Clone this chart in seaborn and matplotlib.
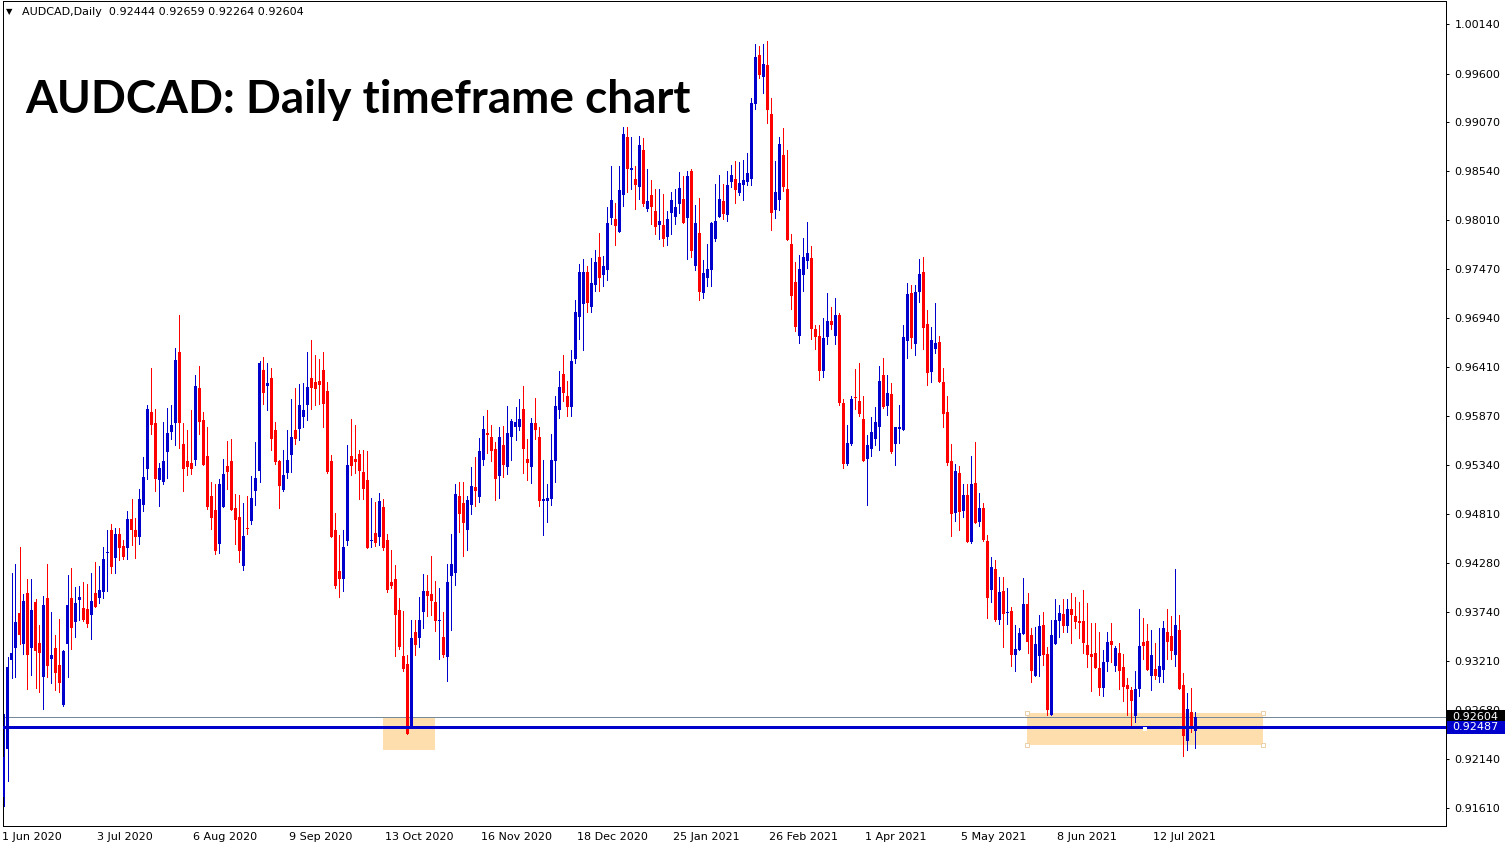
import numpy as np
import pandas as pd
import matplotlib
matplotlib.use("Agg")
import matplotlib.pyplot as plt
import matplotlib.transforms as mtransforms
from matplotlib.patches import Rectangle
import seaborn as sns

sns.set_style("white")
plt.rcParams['font.family'] = ['DejaVu Sans']

# ---------------- data (AUDCAD daily) ----------------
opens = [0.9173, 0.9225, 0.9322, 0.9335, 0.9373, 0.9339, 0.9395, 0.9335, 0.9385, 0.9340,
         0.9304, 0.9390, 0.9323, 0.9335, 0.9317, 0.9273, 0.9339, 0.9389, 0.9363, 0.9387,
         0.9379, 0.9378, 0.9371, 0.9395, 0.9389, 0.9396, 0.9438, 0.9464, 0.9433, 0.9459,
         0.9446, 0.9444, 0.9475, 0.9464, 0.9456, 0.9491, 0.9530, 0.9592, 0.9580, 0.9518,
         0.9516, 0.9548, 0.9570, 0.9580, 0.9657, 0.9557, 0.9539, 0.9536, 0.9540, 0.9618,
         0.9583, 0.9544, 0.9500, 0.9485, 0.9448, 0.9488, 0.9533, 0.9538, 0.9487, 0.9478,
         0.9424, 0.9466, 0.9473, 0.9506, 0.9528, 0.9638, 0.9620, 0.9629, 0.9572, 0.9539,
         0.9507, 0.9526, 0.9545, 0.9572, 0.9573, 0.9586, 0.9600, 0.9629, 0.9625, 0.9626,
         0.9638, 0.9615, 0.9538, 0.9464, 0.9419, 0.9410, 0.9451, 0.9544, 0.9541, 0.9546,
         0.9527, 0.9518, 0.9451, 0.9460, 0.9456, 0.9488, 0.9453, 0.9407, 0.9410, 0.9376,
         0.9326, 0.9318, 0.9249, 0.9353, 0.9346, 0.9374, 0.9397, 0.9394, 0.9385, 0.9364,
         0.9347, 0.9325, 0.9413, 0.9417, 0.9500, 0.9493, 0.9464, 0.9491, 0.9510, 0.9499,
         0.9540, 0.9569, 0.9565, 0.9552, 0.9522, 0.9556, 0.9532, 0.9565, 0.9576, 0.9575,
         0.9595, 0.9541, 0.9532, 0.9580, 0.9565, 0.9495, 0.9495, 0.9497, 0.9539, 0.9594,
         0.9633, 0.9609, 0.9597, 0.9649, 0.9695, 0.9709, 0.9744, 0.9706, 0.9730, 0.9761,
         0.9741, 0.9746, 0.9803, 0.9802, 0.9788, 0.9828, 0.9891, 0.9855, 0.9845, 0.9837,
         0.9877, 0.9813, 0.9828, 0.9810, 0.9795, 0.9795, 0.9782, 0.9808, 0.9804, 0.9818,
         0.9824, 0.9803, 0.9854, 0.9751, 0.9787, 0.9721, 0.9738, 0.9746, 0.9780, 0.9804,
         0.9821, 0.9806, 0.9842, 0.9845, 0.9830, 0.9839, 0.9842, 0.9845, 0.9927, 0.9980,
         0.9956, 0.9969, 0.9916, 0.9812, 0.9823, 0.9871, 0.9835, 0.9775, 0.9733, 0.9675,
         0.9741, 0.9756, 0.9759, 0.9682, 0.9674, 0.9636, 0.9673, 0.9691, 0.9674, 0.9697,
         0.9602, 0.9535, 0.9557, 0.9608, 0.9604, 0.9584, 0.9541, 0.9552, 0.9562, 0.9575,
         0.9632, 0.9598, 0.9611, 0.9557, 0.9573, 0.9572, 0.9669, 0.9721, 0.9666, 0.9722,
         0.9744, 0.9688, 0.9635, 0.9660, 0.9668, 0.9625, 0.9592, 0.9538, 0.9482, 0.9526,
         0.9484, 0.9502, 0.9450, 0.9515, 0.9472, 0.9487, 0.9452, 0.9398, 0.9421, 0.9366,
         0.9397, 0.9373, 0.9375, 0.9327, 0.9333, 0.9350, 0.9383, 0.9349, 0.9305, 0.9326,
         0.9360, 0.9329, 0.9262, 0.9339, 0.9364, 0.9372, 0.9359, 0.9378, 0.9370, 0.9364,
         0.9364, 0.9338, 0.9329, 0.9330, 0.9313, 0.9292, 0.9320, 0.9343, 0.9315, 0.9330,
         0.9314, 0.9295, 0.9289, 0.9261, 0.9290, 0.9342, 0.9343, 0.9305, 0.9312, 0.9304,
         0.9311, 0.9353, 0.9348, 0.9328, 0.9355, 0.9295, 0.9234, 0.9265, 0.92444]
highs = [0.9263, 0.9325, 0.9417, 0.9427, 0.9445, 0.9394, 0.9410, 0.9410, 0.9388, 0.9360,
         0.9392, 0.9427, 0.9374, 0.9349, 0.9367, 0.9333, 0.9415, 0.9422, 0.9401, 0.9402,
         0.9407, 0.9405, 0.9417, 0.9429, 0.9424, 0.9445, 0.9464, 0.9470, 0.9466, 0.9466,
         0.9453, 0.9484, 0.9497, 0.9477, 0.9508, 0.9543, 0.9600, 0.9640, 0.9595, 0.9536,
         0.9581, 0.9596, 0.9599, 0.9661, 0.9697, 0.9580, 0.9572, 0.9594, 0.9632, 0.9642,
         0.9592, 0.9575, 0.9516, 0.9513, 0.9519, 0.9541, 0.9560, 0.9562, 0.9503, 0.9501,
         0.9493, 0.9500, 0.9522, 0.9559, 0.9647, 0.9652, 0.9645, 0.9640, 0.9581, 0.9540,
         0.9550, 0.9572, 0.9606, 0.9618, 0.9622, 0.9623, 0.9657, 0.9670, 0.9654, 0.9650,
         0.9657, 0.9624, 0.9545, 0.9482, 0.9458, 0.9464, 0.9556, 0.9584, 0.9578, 0.9551,
         0.9551, 0.9549, 0.9498, 0.9494, 0.9504, 0.9497, 0.9459, 0.9442, 0.9425, 0.9389,
         0.9375, 0.9327, 0.9366, 0.9366, 0.9391, 0.9416, 0.9414, 0.9435, 0.9408, 0.9400,
         0.9374, 0.9427, 0.9459, 0.9513, 0.9516, 0.9516, 0.9500, 0.9532, 0.9543, 0.9564,
         0.9587, 0.9594, 0.9578, 0.9559, 0.9576, 0.9577, 0.9598, 0.9584, 0.9597, 0.9606,
         0.9620, 0.9563, 0.9585, 0.9607, 0.9576, 0.9540, 0.9513, 0.9568, 0.9609, 0.9637,
         0.9654, 0.9626, 0.9659, 0.9714, 0.9753, 0.9758, 0.9751, 0.9759, 0.9768, 0.9787,
         0.9762, 0.9815, 0.9860, 0.9819, 0.9860, 0.9902, 0.9902, 0.9891, 0.9860, 0.9892,
         0.9890, 0.9856, 0.9844, 0.9835, 0.9834, 0.9829, 0.9810, 0.9831, 0.9834, 0.9853,
         0.9849, 0.9854, 0.9856, 0.9817, 0.9825, 0.9757, 0.9775, 0.9799, 0.9840, 0.9850,
         0.9840, 0.9854, 0.9861, 0.9865, 0.9864, 0.9866, 0.9874, 0.9934, 0.9992, 0.9990,
         0.9992, 0.9995, 0.9934, 0.9865, 0.9891, 0.9901, 0.9877, 0.9786, 0.9755, 0.9763,
         0.9781, 0.9799, 0.9773, 0.9686, 0.9686, 0.9694, 0.9721, 0.9706, 0.9716, 0.9700,
         0.9606, 0.9578, 0.9609, 0.9639, 0.9645, 0.9609, 0.9567, 0.9586, 0.9597, 0.9642,
         0.9651, 0.9632, 0.9623, 0.9575, 0.9599, 0.9687, 0.9732, 0.9730, 0.9730, 0.9758,
         0.9761, 0.9703, 0.9684, 0.9710, 0.9675, 0.9640, 0.9609, 0.9557, 0.9535, 0.9533,
         0.9513, 0.9514, 0.9544, 0.9559, 0.9504, 0.9493, 0.9458, 0.9434, 0.9431, 0.9412,
         0.9412, 0.9400, 0.9380, 0.9360, 0.9357, 0.9411, 0.9395, 0.9357, 0.9358, 0.9371,
         0.9374, 0.9336, 0.9366, 0.9388, 0.9382, 0.9388, 0.9388, 0.9395, 0.9391, 0.9385,
         0.9398, 0.9384, 0.9362, 0.9362, 0.9352, 0.9333, 0.9352, 0.9362, 0.9337, 0.9341,
         0.9329, 0.9302, 0.9293, 0.9310, 0.9378, 0.9368, 0.9361, 0.9355, 0.9340, 0.9357,
         0.9364, 0.9377, 0.9370, 0.9421, 0.9371, 0.9308, 0.9286, 0.9292, 0.92659]
lows = [0.9163, 0.9190, 0.9302, 0.9303, 0.9339, 0.9329, 0.9291, 0.9306, 0.9292, 0.9287,
        0.9269, 0.9304, 0.9297, 0.9289, 0.9287, 0.9272, 0.9304, 0.9334, 0.9347, 0.9366,
        0.9364, 0.9358, 0.9345, 0.9380, 0.9384, 0.9390, 0.9397, 0.9417, 0.9417, 0.9431,
        0.9432, 0.9432, 0.9447, 0.9433, 0.9448, 0.9484, 0.9519, 0.9568, 0.9506, 0.9490,
        0.9513, 0.9520, 0.9562, 0.9556, 0.9553, 0.9506, 0.9523, 0.9524, 0.9534, 0.9568,
        0.9534, 0.9486, 0.9465, 0.9437, 0.9438, 0.9488, 0.9508, 0.9485, 0.9448, 0.9429,
        0.9420, 0.9459, 0.9470, 0.9491, 0.9516, 0.9601, 0.9594, 0.9551, 0.9535, 0.9487,
        0.9506, 0.9520, 0.9527, 0.9557, 0.9561, 0.9575, 0.9583, 0.9595, 0.9599, 0.9601,
        0.9576, 0.9525, 0.9456, 0.9400, 0.9391, 0.9397, 0.9447, 0.9523, 0.9526, 0.9497,
        0.9497, 0.9444, 0.9445, 0.9446, 0.9447, 0.9442, 0.9396, 0.9400, 0.9326, 0.9334,
        0.9310, 0.9241, 0.9248, 0.9328, 0.9336, 0.9357, 0.9370, 0.9371, 0.9354, 0.9323,
        0.9325, 0.9299, 0.9355, 0.9404, 0.9461, 0.9435, 0.9442, 0.9481, 0.9490, 0.9494,
        0.9534, 0.9547, 0.9539, 0.9496, 0.9498, 0.9521, 0.9524, 0.9540, 0.9561, 0.9572,
        0.9525, 0.9518, 0.9515, 0.9562, 0.9490, 0.9458, 0.9472, 0.9491, 0.9516, 0.9585,
        0.9604, 0.9587, 0.9587, 0.9645, 0.9671, 0.9659, 0.9701, 0.9701, 0.9723, 0.9723,
        0.9729, 0.9735, 0.9796, 0.9774, 0.9788, 0.9816, 0.9831, 0.9834, 0.9813, 0.9824,
        0.9816, 0.9810, 0.9796, 0.9785, 0.9780, 0.9773, 0.9774, 0.9785, 0.9796, 0.9808,
        0.9798, 0.9758, 0.9760, 0.9746, 0.9714, 0.9716, 0.9729, 0.9729, 0.9778, 0.9804,
        0.9802, 0.9800, 0.9837, 0.9819, 0.9828, 0.9822, 0.9839, 0.9839, 0.9921, 0.9955,
        0.9939, 0.9906, 0.9790, 0.9803, 0.9812, 0.9832, 0.9779, 0.9704, 0.9680, 0.9667,
        0.9724, 0.9748, 0.9671, 0.9660, 0.9627, 0.9630, 0.9666, 0.9682, 0.9666, 0.9600,
        0.9531, 0.9534, 0.9556, 0.9595, 0.9587, 0.9538, 0.9491, 0.9544, 0.9556, 0.9550,
        0.9596, 0.9589, 0.9547, 0.9534, 0.9558, 0.9572, 0.9651, 0.9661, 0.9654, 0.9711,
        0.9660, 0.9621, 0.9624, 0.9656, 0.9624, 0.9575, 0.9534, 0.9457, 0.9473, 0.9464,
        0.9478, 0.9450, 0.9449, 0.9471, 0.9468, 0.9451, 0.9368, 0.9385, 0.9364, 0.9361,
        0.9336, 0.9361, 0.9315, 0.9310, 0.9333, 0.9350, 0.9330, 0.9298, 0.9305, 0.9305,
        0.9317, 0.9262, 0.9262, 0.9339, 0.9347, 0.9353, 0.9352, 0.9341, 0.9357, 0.9346,
        0.9330, 0.9314, 0.9288, 0.9313, 0.9284, 0.9283, 0.9310, 0.9320, 0.9310, 0.9291,
        0.9277, 0.9262, 0.9248, 0.9255, 0.9283, 0.9323, 0.9311, 0.9289, 0.9301, 0.9298,
        0.9298, 0.9323, 0.9323, 0.9316, 0.9291, 0.9218, 0.9224, 0.9244, 0.92264]
closes = [0.9216, 0.9314, 0.9330, 0.9363, 0.9349, 0.9386, 0.9328, 0.9376, 0.9332, 0.9330,
          0.9382, 0.9316, 0.9328, 0.9308, 0.9297, 0.9332, 0.9382, 0.9357, 0.9384, 0.9391,
          0.9365, 0.9361, 0.9386, 0.9380, 0.9398, 0.9432, 0.9440, 0.9423, 0.9459, 0.9444,
          0.9434, 0.9475, 0.9464, 0.9456, 0.9497, 0.9521, 0.9595, 0.9578, 0.9519, 0.9531,
          0.9539, 0.9569, 0.9578, 0.9648, 0.9580, 0.9530, 0.9532, 0.9530, 0.9620, 0.9581,
          0.9534, 0.9489, 0.9477, 0.9441, 0.9513, 0.9524, 0.9527, 0.9485, 0.9474, 0.9441,
          0.9457, 0.9465, 0.9498, 0.9520, 0.9645, 0.9612, 0.9623, 0.9562, 0.9537, 0.9511,
          0.9523, 0.9540, 0.9565, 0.9563, 0.9599, 0.9594, 0.9619, 0.9618, 0.9617, 0.9621,
          0.9601, 0.9527, 0.9456, 0.9402, 0.9410, 0.9445, 0.9534, 0.9533, 0.9537, 0.9528,
          0.9508, 0.9444, 0.9453, 0.9449, 0.9495, 0.9444, 0.9398, 0.9402, 0.9371, 0.9336,
          0.9312, 0.9241, 0.9346, 0.9338, 0.9366, 0.9397, 0.9392, 0.9386, 0.9364, 0.9366,
          0.9327, 0.9407, 0.9427, 0.9503, 0.9481, 0.9471, 0.9496, 0.9511, 0.9506, 0.9549,
          0.9573, 0.9567, 0.9549, 0.9519, 0.9565, 0.9534, 0.9569, 0.9582, 0.9581, 0.9584,
          0.9552, 0.9536, 0.9580, 0.9572, 0.9495, 0.9497, 0.9498, 0.9540, 0.9598, 0.9619,
          0.9613, 0.9597, 0.9647, 0.9701, 0.9744, 0.9744, 0.9710, 0.9732, 0.9755, 0.9738,
          0.9751, 0.9798, 0.9823, 0.9794, 0.9833, 0.9894, 0.9856, 0.9857, 0.9839, 0.9882,
          0.9818, 0.9821, 0.9815, 0.9793, 0.9800, 0.9780, 0.9802, 0.9823, 0.9815, 0.9836,
          0.9798, 0.9849, 0.9767, 0.9797, 0.9722, 0.9743, 0.9747, 0.9798, 0.9800, 0.9824,
          0.9807, 0.9839, 0.9850, 0.9833, 0.9841, 0.9844, 0.9852, 0.9928, 0.9978, 0.9959,
          0.9971, 0.9920, 0.9808, 0.9831, 0.9883, 0.9837, 0.9779, 0.9718, 0.9684, 0.9747,
          0.9761, 0.9765, 0.9682, 0.9673, 0.9636, 0.9672, 0.9691, 0.9687, 0.9697, 0.9602,
          0.9535, 0.9558, 0.9606, 0.9607, 0.9590, 0.9539, 0.9556, 0.9570, 0.9581, 0.9626,
          0.9597, 0.9612, 0.9548, 0.9575, 0.9575, 0.9673, 0.9720, 0.9672, 0.9722, 0.9742,
          0.9683, 0.9634, 0.9670, 0.9667, 0.9624, 0.9590, 0.9536, 0.9481, 0.9528, 0.9483,
          0.9501, 0.9450, 0.9513, 0.9471, 0.9487, 0.9453, 0.9390, 0.9423, 0.9366, 0.9396,
          0.9372, 0.9374, 0.9327, 0.9334, 0.9351, 0.9383, 0.9342, 0.9310, 0.9339, 0.9359,
          0.9327, 0.9268, 0.9349, 0.9366, 0.9373, 0.9359, 0.9377, 0.9371, 0.9363, 0.9362,
          0.9340, 0.9328, 0.9325, 0.9313, 0.9292, 0.9320, 0.9342, 0.9338, 0.9335, 0.9310,
          0.9293, 0.9290, 0.9277, 0.9291, 0.9337, 0.9337, 0.9311, 0.9327, 0.9305, 0.9316,
          0.9357, 0.9342, 0.9332, 0.9360, 0.9291, 0.9239, 0.9269, 0.9248, 0.92604]

date_labels = ["1 Jun 2020", "3 Jul 2020", "6 Aug 2020", "9 Sep 2020", "13 Oct 2020",
               "16 Nov 2020", "18 Dec 2020", "25 Jan 2021", "26 Feb 2021", "1 Apr 2021",
               "5 May 2021", "8 Jun 2021", "12 Jul 2021"]
date_label_bars = [0, 24, 48, 72, 96, 120, 144, 168, 192, 216, 240, 264, 288]
price_ticks = [1.00140, 0.99600, 0.99070, 0.98540, 0.98010, 0.97470, 0.96940, 0.96410,
               0.95870, 0.95340, 0.94810, 0.94280, 0.93740, 0.93210, 0.92680, 0.92140, 0.91610]

support_level = 0.92487
bid_price = 0.92604
zone_start = [94.9, 255.9]
zone_end = [107.9, 314.9]
zone_low = [0.92241, 0.92295]
zone_high = [0.92600, 0.92643]

header = "AUDCAD,Daily  0.92444 0.92659 0.92264 0.92604"
title = "AUDCAD: Daily timeframe chart"

# ---------------- figure ----------------
W, H = 1510, 850
fig = plt.figure(figsize=(W / 100, H / 100), dpi=100)
fig.patch.set_facecolor("white")
ax_left, ax_right, ax_top, ax_bottom = 2.5, 1446.0, 1.0, 826.0
ax = fig.add_axes([ax_left / W, (H - ax_bottom) / H,
                   (ax_right - ax_left) / W, (ax_bottom - ax_top) / H])
ax.set_facecolor("white")

df = pd.DataFrame({"open": opens, "high": highs, "low": lows, "close": closes})
df["bar"] = np.arange(len(df))
df["up"] = df["close"] >= df["open"]
BLUE = "#0000CD"
RED = "#FF0000"
df["color"] = np.where(df["up"], BLUE, RED)

px = 0.72  # one pixel in points
# wicks
ax.vlines(df["bar"], df["low"], df["high"], colors=df["color"], linewidth=px,
          zorder=3, antialiased=False)
# bodies
body_bottom = np.minimum(df["open"], df["close"])
body_h = np.maximum(np.abs(df["close"] - df["open"]), 0.00011)
ax.bar(df["bar"], body_h, bottom=body_bottom, width=0.75, color=df["color"],
       linewidth=0, zorder=4, antialiased=False)

# zones
for s, e, lo, hi in zip(zone_start, zone_end, zone_low, zone_high):
    ax.add_patch(Rectangle((s, lo), e - s, hi - lo, facecolor="#FFDEAD",
                           edgecolor="none", zorder=1))
# selection handles on second zone
s, e, lo, hi = zone_start[1], zone_end[1], zone_low[1], zone_high[1]
ax.scatter([s, e, s, e], [lo, lo, hi, hi], marker="s", s=9, facecolor="white",
           edgecolor="#EBCFA8", linewidth=0.7, zorder=2)
ax.scatter([(s + e) / 2], [(lo + hi) / 2], marker="s", s=6, facecolor="white",
           edgecolor="none", zorder=6)

# lines
ax.axhline(bid_price, color="#778899", linewidth=px, zorder=2)
ax.axhline(support_level, color=BLUE, linewidth=3 * px, zorder=5)

# limits
n_slots = (ax_right - ax_left) / 4.0
x0 = -(3.5 - ax_left) / 4.0
ax.set_xlim(x0, x0 + n_slots)
ppu = 9191.0  # pixels per price unit
ax.set_ylim(1.00140 - (ax_bottom - 24) / ppu, 1.00140 + (24 - ax_top) / ppu)

# spines
for sp in ax.spines.values():
    sp.set_color("black")
    sp.set_linewidth(px)

# y ticks on right
ax.yaxis.tick_right()
ax.set_yticks(price_ticks)
ax.set_yticklabels([f"{p:.5f}" for p in price_ticks])
ax.tick_params(axis="y", direction="out", length=2.5, width=px, pad=3.5,
               labelsize=8, colors="black")
# x ticks
ax.set_xticks(date_label_bars)
ax.set_xticklabels(date_labels, ha="left")
ax.tick_params(axis="x", direction="out", length=3, width=px, pad=1.5,
               labelsize=8, colors="black")
offset = mtransforms.ScaledTranslation(-2 / 100, 0, fig.dpi_scale_trans)
for lab in ax.get_xticklabels():
    lab.set_transform(lab.get_transform() + offset)

# price tags on the right axis
tr = mtransforms.blended_transform_factory(fig.transFigure, ax.transData)
tag_h = 13 / ppu
for price, fc in [(bid_price, "black"), (support_level, BLUE)]:
    ax.add_patch(Rectangle((1447 / W, price - tag_h / 2), 58 / W, tag_h,
                           transform=tr, facecolor=fc, edgecolor="none",
                           clip_on=False, zorder=10))
    ax.text(1452 / W, price, f"{price:.5f}", transform=tr, color="white",
            fontsize=8, va="center", ha="left", clip_on=False, zorder=11)

# header and title
fig.text(6 / W, 1 - 12 / H, "\u25BC", fontsize=6, va="center", ha="left", color="black")
fig.text(22 / W, 1 - 12 / H, header, fontsize=8, va="center", ha="left", color="black")
fig.text(25 / W, 1 - 113 / H, title, fontsize=33, fontweight="bold",
         family=["Lato", "DejaVu Sans"], va="baseline", ha="left", color="black")

fig.savefig("out.png", dpi=100, facecolor="white")
